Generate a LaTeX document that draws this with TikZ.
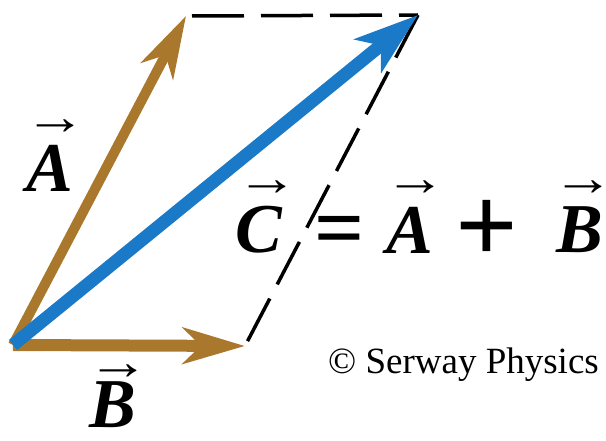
\documentclass[tikz,border=0pt]{standalone}
\usepackage{fontspec}
\usepackage{graphicx}
\setmainfont{Liberation Serif}
\usetikzlibrary{arrows.meta}
\definecolor{vecbrown}{HTML}{A9782C}
\definecolor{vecblue}{HTML}{1B7AC8}
\newcommand{\vecarrow}{\scalebox{1.55}[1.3]{→}}
\tikzset{
  letter/.style={inner sep=0pt, font=\fontsize{70}{70}\selectfont\bfseries\itshape},
  arr/.style={inner sep=0pt, font=\fontsize{40}{40}\selectfont},
  opsym/.style={inner sep=0pt, font=\bfseries},
  brownvec/.style={draw=vecbrown, line width=#1, -{Stealth[length=62pt,width=36pt,inset=18pt]}},
  bluevec/.style={draw=vecblue, line width=13pt, -{Stealth[length=64pt,width=42pt,inset=16pt]}},
  dashline/.style={draw=black, line width=3.5pt, dash pattern=on 52pt off 17pt},
}
\begin{document}
\begin{tikzpicture}[x=1pt,y=-1pt]
\useasboundingbox (0,0) rectangle (606,441);
\coordinate (O) at (13,345);
\coordinate (Atip) at (186,16);
\coordinate (Btip) at (245,346);
\coordinate (Ctip) at (418,15);
% dashed parallelogram sides
\draw[dashline, dash phase=-6pt] (Atip) -- (Ctip);
\draw[dashline, dash pattern=on 48pt off 16pt] (Ctip) -- (Btip);
% vectors
\draw[brownvec=10pt] (O) -- (Atip);
\draw[brownvec=12pt] (O) -- (Btip);
\draw[bluevec] (O) -- (Ctip);
% labels
\node[letter] (la) at (50,168) {A};
\node[arr] (laa) at (55,127) {\vecarrow};
\node[letter] (lb) at (113,405) {B};
\node[arr] (lba) at (118,372) {\vecarrow};
% equation
\node[letter] (ec) at (259,230) {C};
\node[arr] (eca) at (267,188) {\vecarrow};
\node[opsym, font=\fontsize{88}{88}\selectfont\bfseries] (eq) at (340,237) {=};
\node[letter] (ea) at (410,230) {A};
\node[arr] (eaa) at (415,188) {\vecarrow};
\node[opsym, font=\fontsize{110}{110}\selectfont\bfseries] (plus) at (487,231) {+};
\node[letter] (eb) at (580,230) {B};
\node[arr] (eba) at (583,188) {\vecarrow};
% credit
\node[inner sep=0pt, anchor=base west, font=\fontsize{37}{37}\selectfont] (credit) at (328,373) {© Serway Physics};
\end{tikzpicture}
\end{document}
